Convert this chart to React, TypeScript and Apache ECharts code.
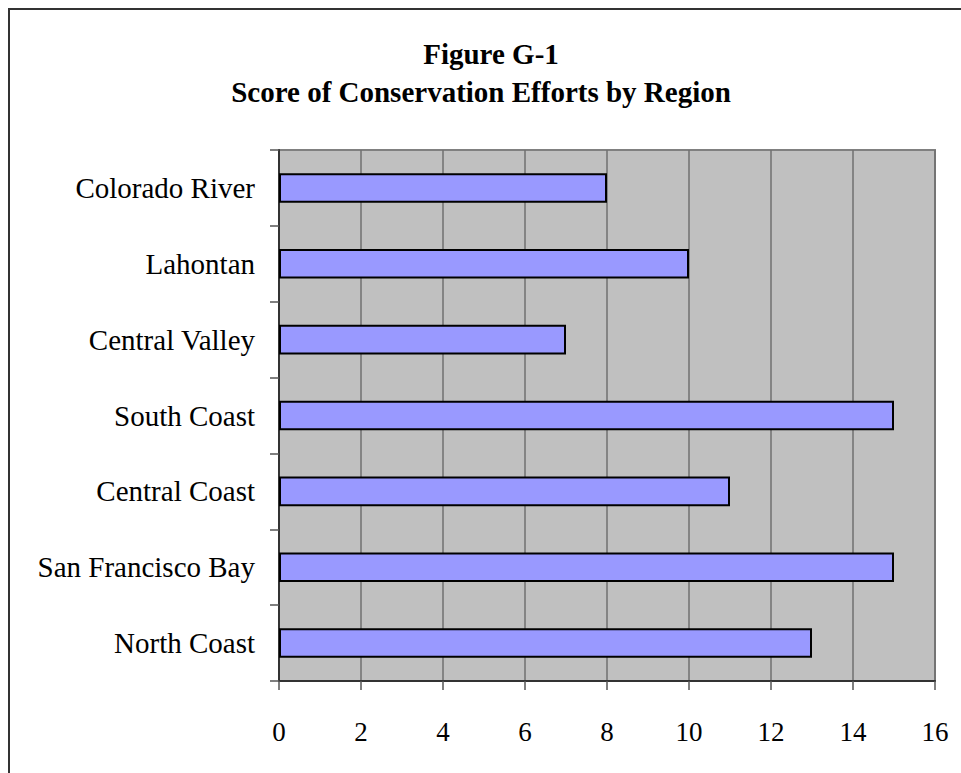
import React, { useEffect, useRef } from "react";
import * as echarts from "echarts";

const categories = [
  "Colorado River",
  "Lahontan",
  "Central Valley",
  "South Coast",
  "Central Coast",
  "San Francisco Bay",
  "North Coast",
];
const scores = [8, 10, 7, 15, 11, 15, 13];
const xMin = 0;
const xMax = 16;
const xStep = 2;
const titleLine1 = "Figure G-1";
const titleLine2 = "Score of Conservation Efforts by Region";

const FONT = "'Liberation Serif', 'Times New Roman', serif";

const titleStyle = {
  fontFamily: FONT,
  fontWeight: "bold",
  fontSize: 29,
  lineHeight: 38,
  color: "#000",
};

export default function App() {
  const ref = useRef<HTMLDivElement>(null);
  useEffect(() => {
    if (!ref.current) return;
    const chart = echarts.init(ref.current, null, { renderer: "svg" });
    chart.setOption({
      animation: false,
      backgroundColor: "#ffffff",
      title: [
        {
          text: titleLine1,
          left: 491,
          top: 35,
          textAlign: "center",
          padding: 0,
          textStyle: titleStyle,
        },
        {
          text: titleLine2,
          left: 481,
          top: 73,
          textAlign: "center",
          padding: 0,
          textStyle: titleStyle,
        },
      ],
      graphic: [
        {
          type: "rect",
          shape: { x: 9, y: 9, width: 1100, height: 1100 },
          style: { fill: "none", stroke: "#333", lineWidth: 2 },
          silent: true,
        },
      ],
      grid: {
        left: 279,
        top: 150,
        width: 656,
        height: 531,
        show: true,
        backgroundColor: "#c0c0c0",
        borderColor: "#808080",
        borderWidth: 2,
        containLabel: false,
      },
      xAxis: {
        type: "value",
        min: xMin,
        max: xMax,
        interval: xStep,
        axisLine: { show: true, lineStyle: { color: "#333", width: 2 } },
        axisTick: { show: true, inside: false, length: 9, lineStyle: { color: "#555", width: 1.5 } },
        axisLabel: { margin: 37, fontFamily: FONT, fontSize: 27, color: "#000" },
        splitLine: { show: true, lineStyle: { color: "#707070", width: 1.5 } },
      },
      yAxis: {
        type: "category",
        data: categories,
        inverse: true,
        axisLine: { show: true, lineStyle: { color: "#333", width: 2 } },
        axisTick: { show: true, inside: false, length: 9, alignWithLabel: false, lineStyle: { color: "#555", width: 1.5 } },
        axisLabel: { margin: 24, fontFamily: FONT, fontSize: 29, color: "#000" },
        splitLine: { show: false },
      },
      series: [
        {
          type: "bar",
          data: scores,
          barWidth: "39%",
          itemStyle: { color: "#9999ff", borderColor: "#000", borderWidth: 2 },
          silent: true,
        },
      ],
    });
    return () => chart.dispose();
  }, []);
  return (
    <div
      ref={ref}
      style={{ position: "fixed", left: 0, top: 0, width: 961, height: 773 }}
    />
  );
}
